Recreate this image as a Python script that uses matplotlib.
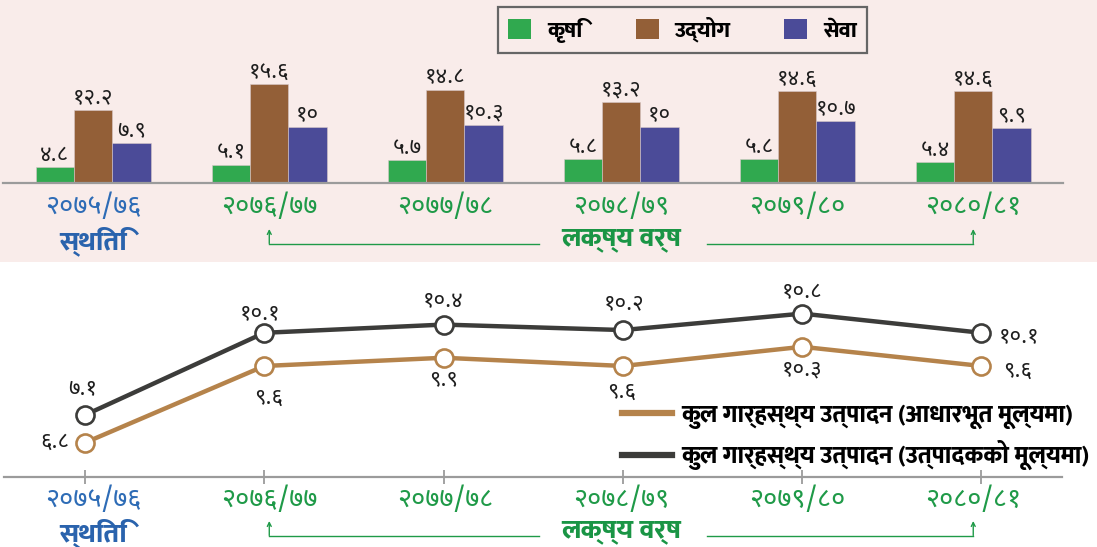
import matplotlib
matplotlib.use("Agg")
import numpy as np
import matplotlib.pyplot as plt
from matplotlib.patches import Patch, Rectangle
from matplotlib.lines import Line2D
from matplotlib.transforms import blended_transform_factory

# fiscal years, sector growth (bars) and GDP growth (lines)
years = ['२०७५/७६', '२०७६/७७', '२०७७/७८', '२०७८/७९', '२०७९/८०', '२०८०/८१']
sectors = ['कृषि', 'उद्योग', 'सेवा']
agri = [4.8, 5.1, 5.7, 5.8, 5.8, 5.4]
industry = [12.2, 15.6, 14.8, 13.2, 14.6, 14.6]
service = [7.9, 10, 10.3, 10, 10.7, 9.9]
gdp_basic = [6.8, 9.6, 9.9, 9.6, 10.3, 9.6]
gdp_producer = [7.1, 10.1, 10.4, 10.2, 10.8, 10.1]
gdp_names = ['कुल गार्हस्थ्य उत्पादन (आधारभूत मूल्यमा)',
             'कुल गार्हस्थ्य उत्पादन (उत्पादकको मूल्यमा)']
status_label = 'स्थिति'
target_label = 'लक्ष्य वर्ष'

NUM_FONT = ['Noto Sans Devanagari', 'DejaVu Sans']
HEAD_FONT = ['Mukta', 'Noto Sans Devanagari', 'DejaVu Sans']

PINK = '#f9ecea'
BAR_COLORS = ['#30a94f', '#935f37', '#4b4b98']
DARK = '#3c3c3a'
TAN = '#b5834b'
GREY = '#9b9b9b'
TXT_GREEN = '#1f9a48'
TXT_BLUE = '#2e6cb6'
HEAD_BLUE = '#2a63ad'
HEAD_GREEN = '#1a9545'

DIGITS = str.maketrans('0123456789', '०१२३४५६७८९')


def dev(v):
    return f"{v:g}".translate(DIGITS)


W, H = 1097, 547
fig = plt.figure(figsize=(W / 100, H / 100), dpi=100)


def fx(px):
    return px / W


def fy(py):
    return 1 - py / H


# pink band behind the bar chart
fig.add_artist(Rectangle((0, fy(261.7)), 1, 261.7 / H, transform=fig.transFigure,
                         facecolor=PINK, edgecolor='none', zorder=0))

# ---- bar chart ----
ax = fig.add_axes([fx(3), fy(182.7), fx(1060), (182.7 - 20) / H])
ax.patch.set_visible(False)
x = np.arange(len(years))
bw = 0.218
for off, vals, col in zip([-bw, 0, bw], [agri, industry, service], BAR_COLORS):
    bars = ax.bar(x + off, vals, bw, color=col, edgecolor='#d8c8c8', linewidth=0.4)
    ax.bar_label(bars, labels=[dev(v) for v in vals], padding=1, fontsize=16,
                 family=NUM_FONT, color='#1e1e1e')
ax.set_xlim(-0.513, 5.51)
ax.set_ylim(2.75, 23.88)
for s in ['top', 'left', 'right']:
    ax.spines[s].set_visible(False)
ax.spines['bottom'].set_color(GREY)
ax.spines['bottom'].set_linewidth(1.6)
ax.set_xticks([])
ax.set_yticks([])

top_tr = blended_transform_factory(ax.transData, fig.transFigure)

fig.legend(handles=[Patch(facecolor=c) for c in BAR_COLORS], labels=sectors, ncol=3,
           loc='upper center', bbox_to_anchor=(fx(682.5), fy(6.7)),
           frameon=True, fancybox=False, edgecolor='#666666', facecolor=PINK, framealpha=1,
           prop=dict(family=HEAD_FONT, weight='heavy', size=16),
           handlelength=1.05, handleheight=1.05, handletextpad=0.7,
           columnspacing=2.4, borderpad=0.45, borderaxespad=0).get_frame().set_linewidth(1.6)

# ---- line chart ----
bx = fig.add_axes([fx(4), fy(476.7), fx(1058), (476.7 - 280) / H])
bx.patch.set_visible(False)
bx.set_xlim(-0.452, 5.449)
bx.set_ylim(4.848, 12.027)
bx2 = bx.twinx()
bx2.set_ylim(5.559, 12.738)
for a in (bx, bx2):
    for s in ['top', 'left', 'right']:
        a.spines[s].set_visible(False)
    a.set_yticks([])
bx2.spines['bottom'].set_visible(False)
bx.spines['bottom'].set_color(GREY)
bx.spines['bottom'].set_linewidth(1.6)
bx.set_xticks(x)
bx.set_xticklabels([])
bx.tick_params(axis='x', direction='inout', length=9.5, width=1.3, color=GREY)

bx.plot(x, gdp_producer, color=DARK, lw=3.2, marker='o', ms=13, mfc='white',
        mec=DARK, mew=1.9, clip_on=False, zorder=3)
bx2.plot(x, gdp_basic, color=TAN, lw=3.2, marker='o', ms=13, mfc='white',
         mec=TAN, mew=1.9, clip_on=False, zorder=3)

producer_offsets = [(-2, 18), (-3, 14), (0, 17), (1, 19), (0, 15), (27, -3)]
basic_offsets = [(-22, 0), (3, -23), (0, -16), (-1, -19), (0, -17), (26, -4)]
for i, v in enumerate(gdp_producer):
    bx.annotate(dev(v), (i, v), xytext=producer_offsets[i], textcoords='offset points',
                ha='center', va='center', fontsize=16, family=NUM_FONT, color='#1e1e1e')
for i, v in enumerate(gdp_basic):
    bx2.annotate(dev(v), (i, v), xytext=basic_offsets[i], textcoords='offset points',
                 ha='center', va='center', fontsize=16, family=NUM_FONT, color='#1e1e1e')

fig.legend(handles=[Line2D([], [], color=TAN, lw=4.5), Line2D([], [], color=DARK, lw=4.5)],
           labels=gdp_names, loc='upper left', bbox_to_anchor=(fx(621.7), fy(404)),
           frameon=False, borderpad=0, borderaxespad=0, handlelength=2.05,
           handletextpad=0.42, labelspacing=0.48,
           prop=dict(family=HEAD_FONT, weight='heavy', size=17.5))


# ---- year labels, status / target captions and bracket arrows ----
def year_row(y_years, y_caption):
    for i, yr in enumerate(years):
        ax.text(i, fy(y_years), yr, transform=top_tr, ha='center', va='center',
                fontsize=19.5, family=NUM_FONT, color=TXT_BLUE if i == 0 else TXT_GREEN)
    ax.text(0, fy(y_caption), status_label, transform=top_tr, ha='center', va='center',
            fontsize=19.5, weight='heavy', family=HEAD_FONT, color=HEAD_BLUE)
    ax.text(3, fy(y_caption - 1), target_label, transform=top_tr, ha='center', va='center',
            fontsize=19.5, weight='heavy', family=HEAD_FONT, color=HEAD_GREEN)
    y_line = fy(y_caption + 2.5)
    y_tip = fy(y_caption - 12)
    ax.plot([1, 2.53], [y_line, y_line], transform=top_tr, color=TXT_GREEN, lw=1, clip_on=False)
    ax.plot([3.49, 5], [y_line, y_line], transform=top_tr, color=TXT_GREEN, lw=1, clip_on=False)
    for xi in (1, 5):
        ax.annotate('', xy=(xi, y_tip), xytext=(xi, y_line), xycoords=top_tr, textcoords=top_tr,
                    arrowprops=dict(arrowstyle='->', color=TXT_GREEN, lw=1,
                                    shrinkA=0, shrinkB=0, mutation_scale=7))


year_row(206.7, 241)
year_row(500, 533)

fig.savefig('out.png', dpi=100)
